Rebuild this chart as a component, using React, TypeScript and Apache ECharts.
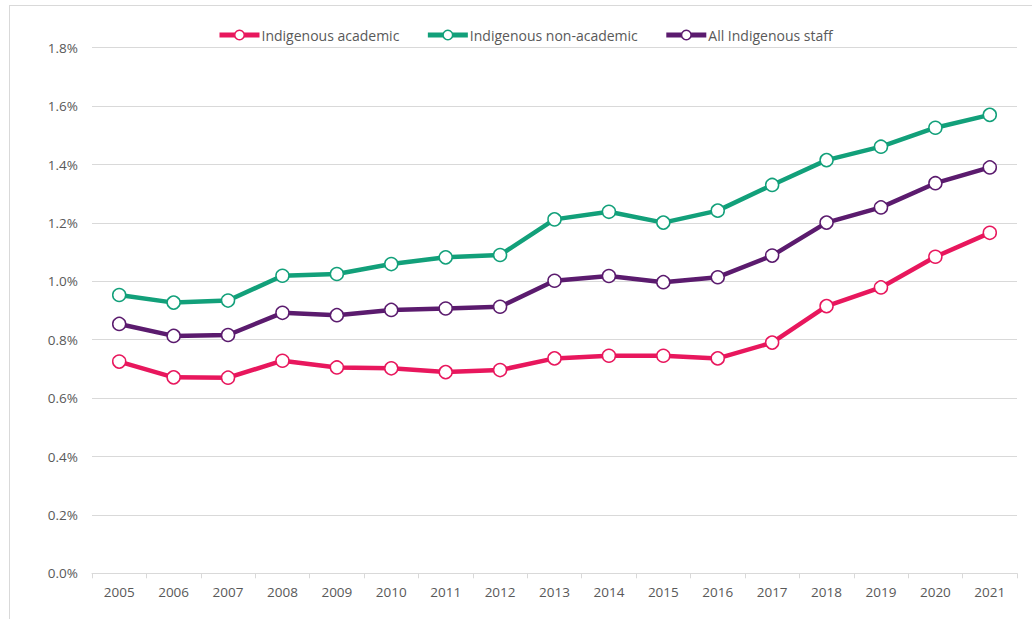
import React, { useEffect, useRef } from "react";
import * as echarts from "echarts";

const years = ["2005","2006","2007","2008","2009","2010","2011","2012","2013","2014","2015","2016","2017","2018","2019","2020","2021"];
const academic = [0.725,0.671,0.670,0.728,0.705,0.702,0.689,0.696,0.736,0.745,0.745,0.736,0.790,0.915,0.979,1.084,1.166];
const nonAcademic = [0.953,0.927,0.934,1.019,1.025,1.059,1.082,1.090,1.212,1.238,1.201,1.242,1.330,1.415,1.461,1.526,1.570];
const allStaff = [0.854,0.813,0.816,0.892,0.884,0.902,0.907,0.913,1.002,1.018,0.997,1.014,1.088,1.201,1.253,1.336,1.390];
const seriesNames = ["Indigenous academic", "Indigenous non-academic", "All Indigenous staff"];
const colors = ["#E8175D", "#12A07A", "#5B1B6E"];

export default function App() {
  const ref = useRef<HTMLDivElement>(null);
  useEffect(() => {
    document.body.style.margin = "0";
    const chart = echarts.init(ref.current!, null, { renderer: "svg" });
    const font = "'Open Sans', 'Noto Sans', sans-serif";
    const mk = (name: string, data: number[], color: string) => ({
      name,
      type: "line",
      data,
      symbol: "circle",
      symbolSize: 13,
      itemStyle: { color: "#ffffff", borderColor: color, borderWidth: 1.5 },
      lineStyle: { color, width: 4.5 },
      emphasis: { disabled: true },
    });
    chart.setOption({
      animation: false,
      textStyle: { fontFamily: font },
      legend: {
        top: 23,
        left: 212,
        itemWidth: 40,
        itemHeight: 12,
        itemGap: 26,
        textStyle: { color: "#595959", fontSize: 14, fontFamily: font, padding: [0, 0, 0, -3] },
        data: seriesNames.map((n, i) => ({
          name: n,
          itemStyle: { color: "#ffffff", borderColor: colors[i], borderWidth: 1.5 },
          lineStyle: { color: colors[i], width: 5 },
        })),
      },
      grid: { left: 92, right: 15, top: 47.7, bottom: 45.7 },
      xAxis: {
        type: "category",
        data: years,
        boundaryGap: true,
        axisLine: { lineStyle: { color: "#d9d9d9", width: 1 } },
        axisTick: { show: true, length: 5, lineStyle: { color: "#d9d9d9" } },
        axisLabel: { color: "#595959", fontSize: 13.5, margin: 12, fontFamily: font },
      },
      yAxis: {
        type: "value",
        min: 0,
        max: 1.8,
        interval: 0.2,
        axisLine: { show: false },
        axisTick: { show: false },
        splitLine: { lineStyle: { color: "#d9d9d9", width: 1 } },
        axisLabel: {
          color: "#595959",
          fontSize: 13.5,
          margin: 14,
          fontFamily: font,
          formatter: (v: number) => v.toFixed(1) + "%",
        },
      },
      series: [
        mk(seriesNames[0], academic, colors[0]),
        mk(seriesNames[1], nonAcademic, colors[1]),
        mk(seriesNames[2], allStaff, colors[2]),
      ],
    });
    return () => chart.dispose();
  }, []);
  return (
    <div style={{ position: "relative", width: 1032, height: 619, background: "#fff", overflow: "hidden" }}>
      <div style={{ position: "absolute", left: 9, top: 5, width: 1030, height: 640, border: "1px solid #d9d9d9", boxSizing: "border-box" }} />
      <div ref={ref} style={{ position: "absolute", left: 0, top: 0, width: 1032, height: 619 }} />
    </div>
  );
}
